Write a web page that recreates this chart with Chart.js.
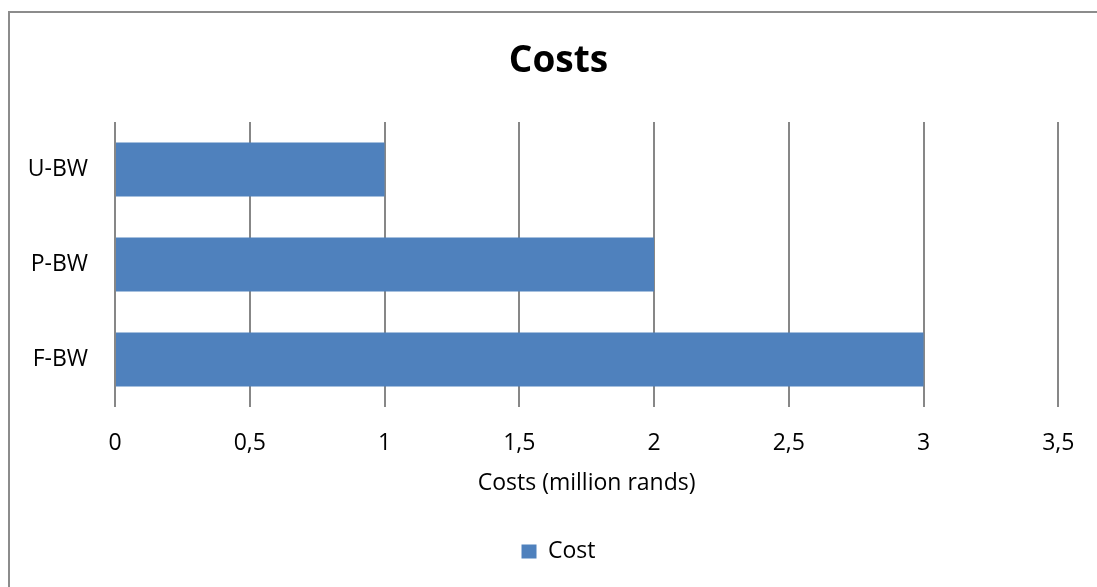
<!DOCTYPE html>
<html>
<head>
<meta charset="utf-8">
<script src="https://cdn.jsdelivr.net/npm/chart.js@4"></script>
<style>
  html, body { margin: 0; padding: 0; background: #fff; overflow: hidden; }
  #wrap { position: relative; width: 1097px; height: 587px; }
  #frame {
    position: absolute; left: 8px; top: 11px; width: 1200px; height: 700px;
    border-left: 2px solid #8c8c8c; border-top: 2px solid #8c8c8c;
    pointer-events: none;
  }
  canvas { position: absolute; left: 0; top: 0; }
</style>
</head>
<body>
<div id="wrap">
  <canvas id="myChart" width="1097" height="587"></canvas>
  <div id="frame"></div>
</div>
<script>
var categories = ['U-BW', 'P-BW', 'F-BW'];
var costValues = [1, 2, 3];
var seriesName = 'Cost';
var chartTitle = 'Costs';
var xAxisTitle = 'Costs (million rands)';

Chart.defaults.font.family = '"Open Sans", sans-serif';
Chart.defaults.color = '#000';

var ctx = document.getElementById('myChart');
new Chart(ctx, {
  type: 'bar',
  data: {
    labels: categories,
    datasets: [
      {
        label: seriesName,
        data: costValues,
        backgroundColor: '#4f81bd',
        borderWidth: 0,
        categoryPercentage: 1,
        barPercentage: 0.57
      }
    ]
  },
  options: {
    indexAxis: 'y',
    responsive: false,
    animation: false,
    layout: { padding: { left: 20, right: 0, top: 0, bottom: 14 } },
    plugins: {
      title: {
        display: true,
        text: chartTitle,
        font: { size: 37, weight: 'bold' },
        color: '#000',
        padding: { top: 39, bottom: 38.6 }
      },
      legend: {
        position: 'bottom',
        labels: {
          boxWidth: 15,
          boxHeight: 14,
          padding: 43.2,
          font: { size: 23 },
          color: '#000'
        }
      },
      tooltip: { enabled: false }
    },
    scales: {
      x: {
        min: 0,
        max: 3.5,
        border: { display: false },
        grid: { color: '#878787', lineWidth: 2, drawTicks: false },
        ticks: {
          stepSize: 0.5,
          padding: 22.6,
          font: { size: 23 },
          callback: function (v) { return String(v).replace('.', ','); }
        },
        title: {
          display: true,
          text: xAxisTitle,
          font: { size: 23 },
          padding: { top: 0, bottom: 0 }
        },
        afterFit: function (scale) { scale.height = 89.8; }
      },
      y: {
        border: { display: false },
        grid: { display: false, drawTicks: false },
        ticks: { padding: 27, font: { size: 23 } },
        afterFit: function (scale) { scale.width = 95; }
      },
      // empty right-hand axis, only reserves the gap after 3,5
      yRight: {
        type: 'linear',
        position: 'right',
        border: { display: false },
        grid: { display: false, drawTicks: false },
        ticks: { display: false },
        afterFit: function (scale) { scale.width = 38; }
      }
    }
  }
});
</script>
</body>
</html>
